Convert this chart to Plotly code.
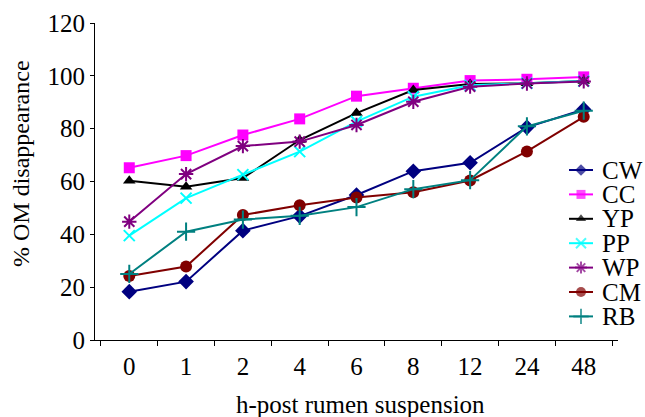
import plotly.graph_objects as go

hours = ["0", "1", "2", "4", "6", "8", "12", "24", "48"]
CW = [18.3, 22.1, 41.4, 46.9, 54.9, 63.9, 67.1, 80.5, 87.3]
CC = [65.2, 69.8, 77.6, 83.7, 92.3, 95.3, 98.2, 98.7, 99.6]
YP = [60.3, 58.0, 61.3, 75.7, 85.9, 94.6, 96.9, 97.2, 98.0]
PP = [39.5, 53.7, 62.6, 71.3, 82.7, 92.1, 96.4, 97.2, 98.0]
WP = [44.8, 62.8, 73.4, 75.1, 81.4, 90.2, 95.9, 97.1, 97.9]
CM = [24.2, 27.8, 47.3, 51.0, 53.9, 55.9, 60.4, 71.4, 84.5]
RB = [25.0, 41.0, 45.6, 47.0, 50.3, 57.1, 60.5, 80.9, 86.8]

names = ["CW", "CC", "YP", "PP", "WP", "CM", "RB"]
values = [CW, CC, YP, PP, WP, CM, RB]
colors = ["#000080", "#FF00FF", "#000000", "#00FFFF", "#800080", "#800000", "#008080"]
symbols = ["diamond", "square", "triangle-up", "x-thin", "asterisk", "circle", "cross-thin"]
sizes = [12, 11, 11, 11, 12, 12, 13]
leg_sizes = [9, 9, 9, 10, 10, 10, 11]

FONT = "Liberation Serif"
L, R, T, B, W, H = 95, 27, 23, 77, 645, 417
PW, PH = W - L - R, H - T - B


def px_x(p):
    return (p - L) / PW


def px_y(p):
    return (H - B - p) / PH


def mline(sym):
    return 2 if sym in ("x-thin", "cross-thin", "asterisk") else 0


fig = go.Figure()
for name, vals, color, sym, size in zip(names, values, colors, symbols, sizes):
    fig.add_trace(go.Scatter(
        x=hours, y=vals, name=name, mode="lines+markers", showlegend=False,
        line=dict(color=color, width=2),
        marker=dict(symbol=sym, size=size, color=color,
                    line=dict(color=color, width=mline(sym))),
    ))

# hand-drawn legend (compact spacing like the original)
leg_top, leg_step = 170, 24.4
for i, (name, color, sym, size) in enumerate(zip(names, colors, symbols, leg_sizes)):
    yy = px_y(leg_top + i * leg_step)
    fig.add_trace(go.Scatter(
        x=[px_x(569), px_x(581), px_x(593)], y=[yy, yy, yy],
        xaxis="x2", yaxis="y2", mode="lines+markers", showlegend=False,
        hoverinfo="skip", cliponaxis=False,
        line=dict(color=color, width=2),
        marker=dict(symbol=sym, size=[0, size, 0], color=color,
                    line=dict(color=color, width=mline(sym))),
    ))
    fig.add_annotation(text=name, xref="paper", yref="paper",
                       x=px_x(600), y=yy, xanchor="left", yanchor="middle",
                       showarrow=False, font=dict(size=25, family=FONT, color="black"))

fig.add_annotation(text="h-post rumen suspension", xref="paper", yref="paper",
                   x=px_x(360), y=px_y(404), xanchor="center", yanchor="middle",
                   showarrow=False, font=dict(size=25, family=FONT, color="black"))
fig.add_annotation(text="% OM disappearance", xref="paper", yref="paper",
                   x=px_x(21), y=px_y(164), xanchor="center", yanchor="middle",
                   textangle=-90, showarrow=False,
                   font=dict(size=24, family=FONT, color="black"))

fig.update_layout(
    width=W, height=H,
    margin=dict(l=L, r=R, t=T, b=B),
    paper_bgcolor="white", plot_bgcolor="white",
    font=dict(family=FONT, size=25, color="black"),
    showlegend=False,
    xaxis=dict(type="category", showgrid=False, showline=True, linecolor="black",
               linewidth=1, ticks="outside", tickson="boundaries", ticklen=5,
               tickcolor="black", tickfont=dict(size=25, family=FONT), automargin=False,
               ticklabelstandoff=4),
    yaxis=dict(range=[0, 120], dtick=20, showgrid=False, showline=True, linecolor="black",
               linewidth=1, ticks="outside", ticklen=4, tickcolor="black",
               tickfont=dict(size=25, family=FONT), zeroline=False, automargin=False),
    xaxis2=dict(overlaying="x", range=[0, 1], visible=False, fixedrange=True),
    yaxis2=dict(overlaying="y", range=[0, 1], visible=False, fixedrange=True),
)

fig.write_html("out.html", config={"displayModeBar": False},
               post_script="document.body.style.margin='0';")
